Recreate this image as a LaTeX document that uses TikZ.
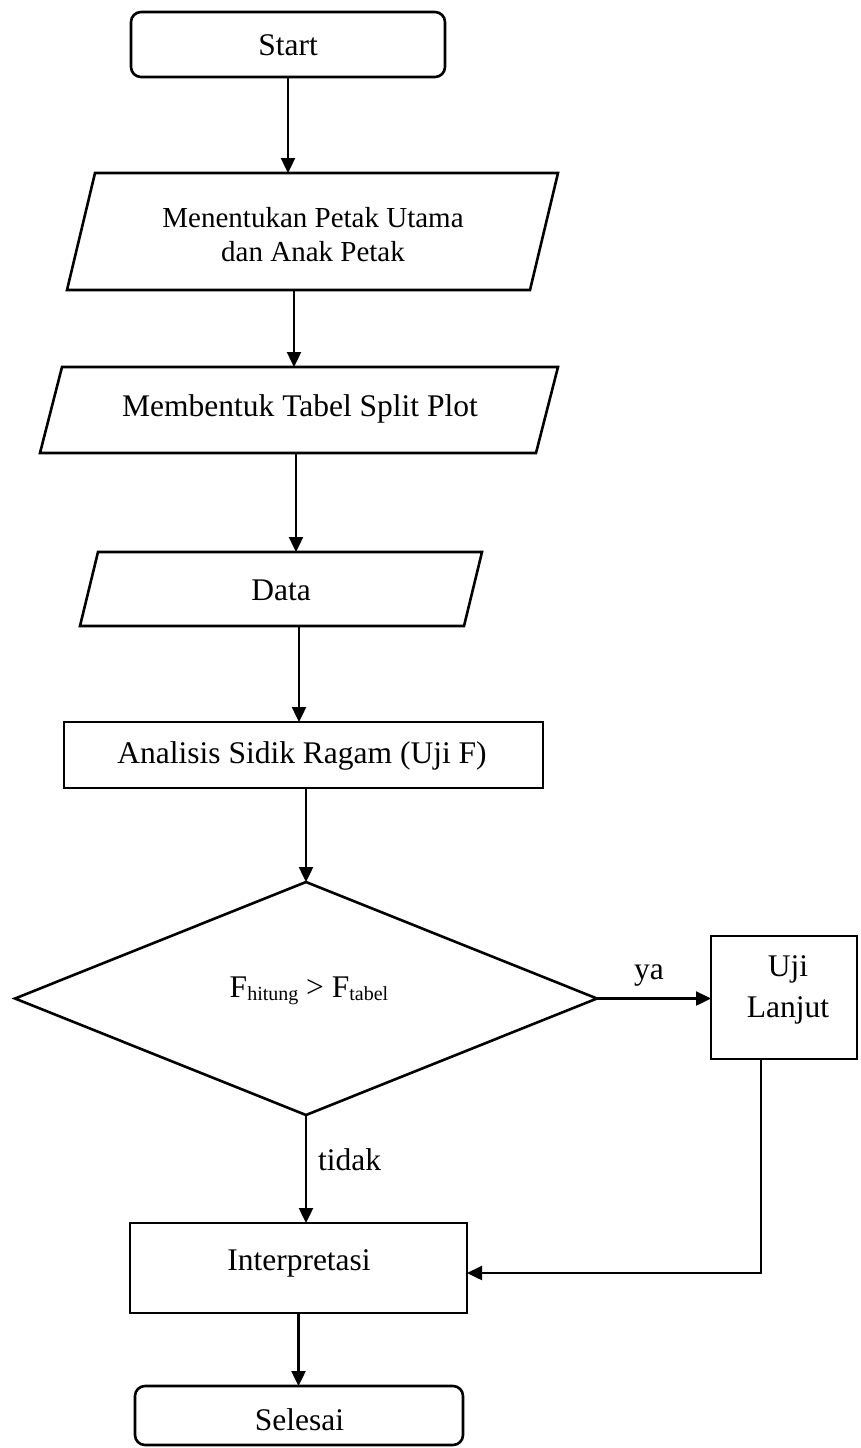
\documentclass[tikz,border=0pt]{standalone}
\usepackage{fontspec}
\setmainfont{Liberation Serif}
\usetikzlibrary{arrows.meta,shapes.geometric}
\newcommand{\sbs}[1]{\raisebox{-3pt}{\fontsize{20}{20}\selectfont #1}}
\begin{document}
\begin{tikzpicture}[x=1pt,y=-1pt,
  shp/.style={draw=none, inner sep=0pt, outer sep=0pt},
  bx/.style={draw, line width=2.6pt, inner sep=0pt, outer sep=0pt},
  rbox/.style={bx, rounded corners=10pt},
  para/.style={line width=2.6pt, line join=miter},
  arr/.style={line width=2.4pt, -{Triangle[length=15pt,width=14pt]}},
  txt/.style={inner sep=0pt, font=\fontsize{31.5}{38}\selectfont}
]
\useasboundingbox (0,0) rectangle (860,1448);
% shapes
\node[rbox, minimum width=314pt, minimum height=65pt] (start) at (288,44.5) {};
\node[shp, minimum width=491pt, minimum height=117pt] (p1) at (312.5,231.5) {};
\draw[para] ([xshift=28pt]p1.north west) -- (p1.north east) -- ([xshift=-28pt]p1.south east) -- (p1.south west) -- cycle;
\node[shp, minimum width=518pt, minimum height=86pt] (p2) at (299,410) {};
\draw[para] ([xshift=22pt]p2.north west) -- (p2.north east) -- ([xshift=-22pt]p2.south east) -- (p2.south west) -- cycle;
\node[shp, minimum width=402pt, minimum height=74pt] (data) at (281,589) {};
\draw[para] ([xshift=18pt]data.north west) -- (data.north east) -- ([xshift=-18pt]data.south east) -- (data.south west) -- cycle;
\node[bx, minimum width=479pt, minimum height=66pt] (an) at (303.5,755) {};
\node[bx, diamond, minimum width=582pt, minimum height=233pt] (dec) at (306,998.5) {};
\node[bx, minimum width=146pt, minimum height=123pt] (uji) at (784,997.5) {};
\node[bx, minimum width=337pt, minimum height=90pt] (interp) at (298.5,1268) {};
\node[rbox, minimum width=328pt, minimum height=59pt] (selesai) at (299,1415.5) {};
% texts
\node[txt, anchor=base] (tstart) at (288,55) {Start};
\node[inner sep=0pt, anchor=north, align=center, font=\fontsize{29}{34}\selectfont] (tp1) at (313,207.2) {Menentukan Petak Utama\\dan Anak Petak};
\node[txt, anchor=base] (tp2) at (300,416) {Membentuk Tabel Split Plot};
\node[txt, anchor=base] (tdata) at (281,600) {Data};
\node[txt, anchor=base] (tan) at (302,763) {Analisis Sidik Ragam (Uji F)};
\node[txt, anchor=base] (tdec) at (309,997) {F\sbs{hitung} > F\sbs{tabel}};
\node[inner sep=0pt, anchor=north, align=center, font=\fontsize{31.5}{41}\selectfont] (tuji) at (788,955.5) {Uji\\Lanjut};
\node[txt, anchor=base] (tinterp) at (299,1270) {Interpretasi};
\node[txt, anchor=base] (tsel) at (299.5,1430) {Selesai};
% connectors
\draw[arr] (start.south) -- (start.south |- p1.north);
\draw[arr] (p1.south -| 294,0) -- (p2.north -| 294,0);
\draw[arr] (p2.south -| 296,0) -- (data.north -| 296,0);
\draw[arr] (data.south -| 299,0) -- (an.north -| 299,0);
\draw[arr] (an.south -| dec.north) -- (dec.north);
\draw[arr] (dec.south) -- (dec.south |- interp.north);
\draw[arr] (dec.east) -- (uji.west |- dec.east);
\draw[arr] (uji.south -| 761,0) |- (interp.east |- 0,1273);
\draw[arr] (interp.south) -- (interp.south |- selesai.north);
% labels
\node[txt, anchor=base] (ya) at (649,979) {ya};
\node[txt, anchor=base west] (ltidak) at (318,1170) {tidak};
\end{tikzpicture}
\end{document}
